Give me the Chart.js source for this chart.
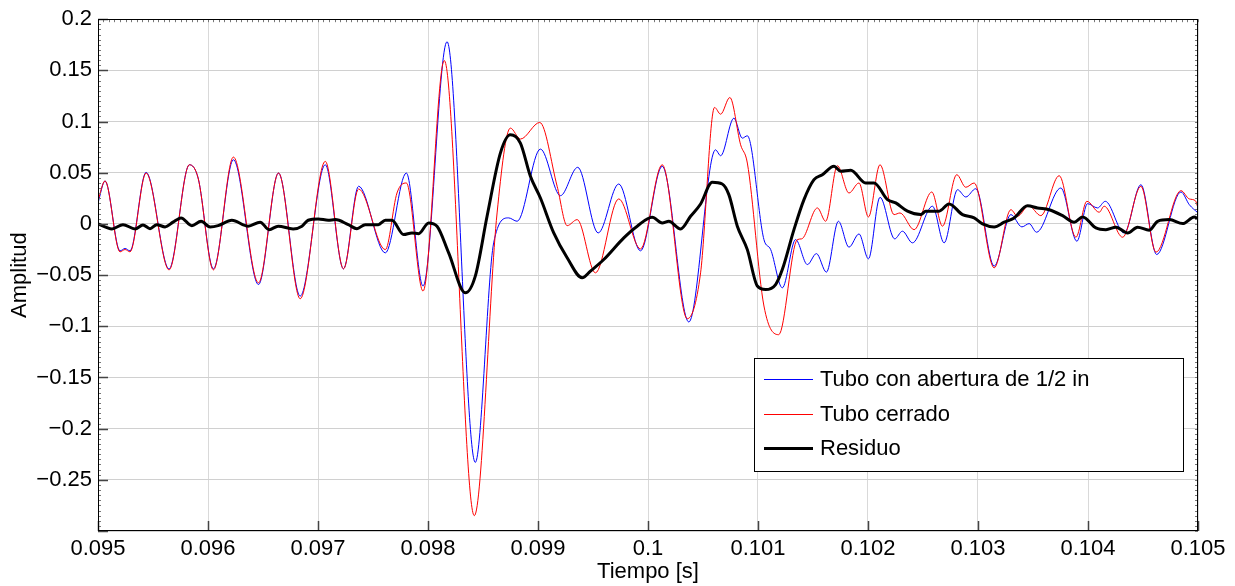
<!DOCTYPE html>
<html>
<head>
<meta charset="utf-8">
<title>Tubo con abertura de 1/2 in vs. Tubo cerrado</title>
<script src="https://cdn.jsdelivr.net/npm/chart.js@4/dist/chart.umd.min.js"></script>
<style>
  html, body { margin: 0; padding: 0; background: #ffffff; }
  canvas { display: block; }
</style>
</head>
<body>
<canvas id="chart" width="1235" height="586"></canvas>
<script>
// Señales medidas (tiempo en segundos, amplitud normalizada)
const tBlue = [0.095000, 0.095064, 0.095200, 0.095246, 0.095291, 0.095437, 0.095646, 0.095831, 0.095910, 0.096049,
  0.096231, 0.096459, 0.096641, 0.096838, 0.097066, 0.097232, 0.097369, 0.097612, 0.097803, 0.097955,
  0.098173, 0.098430, 0.098597, 0.098733, 0.098810, 0.099022, 0.099204, 0.099361, 0.099547, 0.099734,
  0.099932, 0.100129, 0.100371, 0.100614, 0.100660, 0.100781, 0.100857, 0.100903, 0.101054, 0.101115,
  0.101221, 0.101342, 0.101449, 0.101531, 0.101622, 0.101731, 0.101827, 0.101918, 0.102004, 0.102109,
  0.102243, 0.102313, 0.102404, 0.102586, 0.102692, 0.102814, 0.102889, 0.102980, 0.103147, 0.103299,
  0.103399, 0.103465, 0.103532, 0.103753, 0.103899, 0.103996, 0.104087, 0.104157, 0.104329, 0.104481,
  0.104624, 0.104845, 0.104921, 0.105000];
const vBlue = [0.0205, 0.0420, -0.0263, -0.0240, -0.0263, 0.0504, -0.0439, 0.0578, 0.0449, -0.0439,
  0.0627, -0.0592, 0.0497, -0.0705, 0.0578, -0.0439, 0.0368, -0.0283, 0.0497, -0.0607,
  0.1780, -0.2330, -0.0185, 0.0059, 0.0026, 0.0731, 0.0276, 0.0553, -0.0088, 0.0390,
  -0.0263, 0.0563, -0.0958, 0.0724, 0.0666, 0.1033, 0.0838, 0.0861, -0.0153, -0.0250,
  -0.0624, -0.0153, -0.0397, -0.0290, -0.0471, 0.0026, -0.0227, -0.0098, -0.0341, 0.0260,
  -0.0146, -0.0071, -0.0185, 0.0173, -0.0185, 0.0334, 0.0263, 0.0344, -0.0412, 0.0091,
  -0.0029, 0.0003, -0.0081, 0.0351, -0.0169, 0.0198, 0.0156, 0.0221, -0.0088, 0.0383,
  -0.0299, 0.0312, 0.0188, 0.0107];

const tRed = [0.095000, 0.095064, 0.095200, 0.095246, 0.095291, 0.095437, 0.095646, 0.095831, 0.095910, 0.096049,
  0.096231, 0.096459, 0.096641, 0.096838, 0.097066, 0.097232, 0.097369, 0.097612, 0.097718, 0.097803,
  0.097955, 0.098148, 0.098421, 0.098628, 0.098749, 0.098840, 0.099016, 0.099174, 0.099265, 0.099356,
  0.099522, 0.099734, 0.099932, 0.100129, 0.100357, 0.100478, 0.100605, 0.100660, 0.100744, 0.100842,
  0.100903, 0.101054, 0.101188, 0.101358, 0.101397, 0.101540, 0.101615, 0.101722, 0.101827, 0.101918,
  0.102004, 0.102109, 0.102237, 0.102291, 0.102419, 0.102580, 0.102677, 0.102807, 0.102889, 0.102965,
  0.103147, 0.103299, 0.103359, 0.103460, 0.103571, 0.103738, 0.103890, 0.103990, 0.104102, 0.104147,
  0.104315, 0.104481, 0.104618, 0.104845, 0.104921, 0.104976, 0.105000];
const vRed = [0.0230, 0.0420, -0.0273, -0.0250, -0.0273, 0.0497, -0.0449, 0.0578, 0.0449, -0.0449,
  0.0653, -0.0575, 0.0497, -0.0731, 0.0611, -0.0439, 0.0341, -0.0251, 0.0302, 0.0400,
  -0.0656, 0.1596, -0.2850, 0.0107, 0.0936, 0.0829, 0.0991, 0.0368, -0.0017, 0.0042,
  -0.0478, 0.0244, -0.0244, 0.0578, -0.0926, -0.0478, 0.1138, 0.1072, 0.1235, 0.0773,
  0.0595, -0.0802, -0.1082, -0.0153, -0.0146, 0.0156, 0.0026, 0.0568, 0.0302, 0.0400,
  0.0068, 0.0578, 0.0091, 0.0107, -0.0056, 0.0312, -0.0022, 0.0481, 0.0358, 0.0400,
  -0.0429, 0.0139, 0.0075, 0.0178, 0.0081, 0.0471, -0.0130, 0.0221, 0.0114, 0.0173,
  -0.0130, 0.0368, -0.0276, 0.0325, 0.0244, 0.0227, 0.0156];

const tRes = [0.095000, 0.095127, 0.095227, 0.095337, 0.095409, 0.095473, 0.095534, 0.095610, 0.095682, 0.095755,
  0.095853, 0.095937, 0.096019, 0.096092, 0.096217, 0.096365, 0.096474, 0.096556, 0.096638, 0.096774,
  0.096854, 0.096911, 0.097002, 0.097093, 0.097157, 0.097275, 0.097354, 0.097429, 0.097548, 0.097612,
  0.097672, 0.097778, 0.097854, 0.097915, 0.098006, 0.098082, 0.098188, 0.098339, 0.098430, 0.098537,
  0.098658, 0.098749, 0.098840, 0.098931, 0.099022, 0.099143, 0.099265, 0.099401, 0.099477, 0.099598,
  0.099780, 0.099902, 0.100038, 0.100129, 0.100189, 0.100296, 0.100387, 0.100478, 0.100584, 0.100675,
  0.100735, 0.100812, 0.100903, 0.100994, 0.101069, 0.101160, 0.101221, 0.101327, 0.101418, 0.101509,
  0.101585, 0.101691, 0.101752, 0.101843, 0.101979, 0.102055, 0.102177, 0.102252, 0.102359, 0.102480,
  0.102525, 0.102646, 0.102737, 0.102859, 0.102965, 0.103041, 0.103147, 0.103238, 0.103329, 0.103450,
  0.103541, 0.103647, 0.103769, 0.103874, 0.103951, 0.104072, 0.104163, 0.104254, 0.104360, 0.104451,
  0.104557, 0.104633, 0.104739, 0.104861, 0.104966, 0.105000];
const vRes = [0.0000, -0.0049, -0.0007, -0.0049, -0.0010, -0.0046, -0.0007, -0.0029, 0.0017, 0.0059,
  -0.0017, 0.0026, -0.0029, -0.0017, 0.0036, -0.0022, 0.0017, -0.0056, -0.0022, -0.0049,
  -0.0022, 0.0036, 0.0049, 0.0036, 0.0042, -0.0007, -0.0046, -0.0007, -0.0007, 0.0036,
  0.0036, -0.0104, -0.0088, -0.0095, 0.0010, -0.0022, -0.0283, -0.0673, -0.0510, 0.0075,
  0.0692, 0.0871, 0.0790, 0.0465, 0.0253, -0.0088, -0.0331, -0.0526, -0.0461, -0.0348,
  -0.0136, -0.0022, 0.0065, 0.0010, 0.0026, -0.0049, 0.0075, 0.0195, 0.0407, 0.0390,
  0.0286, -0.0022, -0.0251, -0.0607, -0.0641, -0.0592, -0.0446, -0.0056, 0.0237, 0.0432,
  0.0481, 0.0563, 0.0514, 0.0524, 0.0400, 0.0400, 0.0237, 0.0205, 0.0124, 0.0091,
  0.0124, 0.0124, 0.0195, 0.0091, 0.0059, 0.0000, -0.0029, 0.0017, 0.0059, 0.0178,
  0.0156, 0.0139, 0.0081, 0.0017, 0.0068, -0.0039, -0.0056, -0.0032, -0.0088, -0.0032,
  -0.0061, 0.0026, 0.0042, 0.0003, 0.0068, 0.0049];

const seriesNames = ['Tubo con abertura de 1/2 in', 'Tubo cerrado', 'Residuo'];
const xRange = [0.095, 0.105];
const yRange = [-0.3, 0.2];
const xStep = 0.001;
const yStep = 0.05;

const FONT = "'Liberation Sans', Arial, Helvetica, sans-serif";

function toPoints(ts, vs) {
  return ts.map((t, i) => ({ x: t, y: vs[i] }));
}

function fmt(v) {
  const s = String(parseFloat(v.toFixed(4)));
  return v < 0 ? '\u2212' + s.slice(1) : s;
}

// Marco, marcas de escala y leyenda
const framePlugin = {
  id: 'frame',
  afterDatasetsDraw(chart) {
    const { ctx, chartArea: a, scales: { x, y } } = chart;
    ctx.save();
    // marcas menores
    ctx.strokeStyle = '#777';
    ctx.lineWidth = 1;
    ctx.beginPath();
    for (let k = 0; k <= 100; k++) {
      const py = Math.round(y.getPixelForValue(yRange[0] + k * 0.005)) + 0.5;
      ctx.moveTo(a.left, py); ctx.lineTo(a.left + 3, py);
      ctx.moveTo(a.right, py); ctx.lineTo(a.right - 3, py);
    }
    for (let k = 0; k <= 200; k++) {
      const px = Math.round(x.getPixelForValue(xRange[0] + k * 0.00005)) + 0.5;
      ctx.moveTo(px, a.top); ctx.lineTo(px, a.top + 3);
    }
    ctx.stroke();
    // marcas mayores
    ctx.strokeStyle = '#444';
    ctx.lineWidth = 1.5;
    ctx.beginPath();
    y.ticks.forEach(t => {
      const py = Math.round(y.getPixelForValue(t.value)) + 0.5;
      ctx.moveTo(a.left, py); ctx.lineTo(a.left + 10, py);
    });
    x.ticks.forEach(t => {
      const px = Math.round(x.getPixelForValue(t.value)) + 0.5;
      ctx.moveTo(px, a.bottom); ctx.lineTo(px, a.bottom - 10);
    });
    ctx.stroke();
    // caja
    ctx.strokeStyle = '#000';
    ctx.lineWidth = 1;
    ctx.strokeRect(Math.round(a.left) + 0.5, Math.round(a.top) + 0.5,
      Math.round(a.right - a.left) - 1, Math.round(a.bottom - a.top) - 1);
    ctx.restore();
  },
  afterDraw(chart) {
    const { ctx } = chart;
    const box = { x: 754, y: 358, w: 429, h: 113 };
    ctx.save();
    ctx.fillStyle = '#fff';
    ctx.fillRect(box.x, box.y, box.w, box.h);
    ctx.strokeStyle = '#000';
    ctx.lineWidth = 1;
    ctx.strokeRect(box.x + 0.5, box.y + 0.5, box.w, box.h);
    ctx.font = '22px ' + FONT;
    ctx.textBaseline = 'middle';
    ctx.textAlign = 'left';
    const rows = [379, 414, 448];
    chart.data.datasets.forEach((ds, i) => {
      const ry = rows[i];
      ctx.strokeStyle = ds.borderColor;
      ctx.lineWidth = ds.borderWidth;
      ctx.beginPath();
      ctx.moveTo(764, ry + 0.5);
      ctx.lineTo(813, ry + 0.5);
      ctx.stroke();
      ctx.fillStyle = '#000';
      ctx.fillText(ds.label, 820, ry + 1);
    });
    ctx.restore();
  }
};

new Chart(document.getElementById('chart'), {
  type: 'line',
  data: {
    datasets: [
      { label: seriesNames[0], data: toPoints(tBlue, vBlue), borderColor: '#0000ff', borderWidth: 1, order: 2 },
      { label: seriesNames[1], data: toPoints(tRed, vRed), borderColor: '#ff0000', borderWidth: 1, order: 1 },
      { label: seriesNames[2], data: toPoints(tRes, vRes), borderColor: '#000000', borderWidth: 3, order: 0 }
    ]
  },
  options: {
    responsive: false,
    animation: false,
    devicePixelRatio: 1,
    layout: { padding: { top: 16, right: 37, left: 0, bottom: 0 } },
    elements: {
      point: { radius: 0 },
      line: { cubicInterpolationMode: 'monotone', fill: false, borderJoinStyle: 'round' }
    },
    plugins: { legend: { display: false }, tooltip: { enabled: false } },
    scales: {
      x: {
        type: 'linear',
        min: xRange[0], max: xRange[1],
        afterFit(s) { s.height = 55; },
        ticks: {
          stepSize: xStep, color: '#000', padding: 5,
          font: { family: FONT, size: 22 },
          maxRotation: 0, autoSkip: false,
          callback: v => fmt(v)
        },
        grid: { color: '#d9d9d9', lineWidth: 1, drawTicks: false },
        border: { display: false },
        title: { display: true, text: 'Tiempo [s]', color: '#000', font: { family: FONT, size: 22 }, padding: { top: 0, bottom: 1 } }
      },
      y: {
        min: yRange[0], max: yRange[1],
        afterFit(s) { s.width = 98; },
        ticks: {
          stepSize: yStep, color: '#000', padding: 6,
          font: { family: FONT, size: 22 },
          autoSkip: false,
          callback: v => (v < yRange[0] + 1e-9 ? '' : fmt(v))
        },
        grid: { color: '#d0d0d0', lineWidth: 1, drawTicks: false },
        border: { display: false },
        title: { display: true, text: 'Amplitud', color: '#000', font: { family: FONT, size: 22 }, padding: { top: 7, bottom: 0 } }
      }
    }
  },
  plugins: [framePlugin]
});
</script>
</body>
</html>
